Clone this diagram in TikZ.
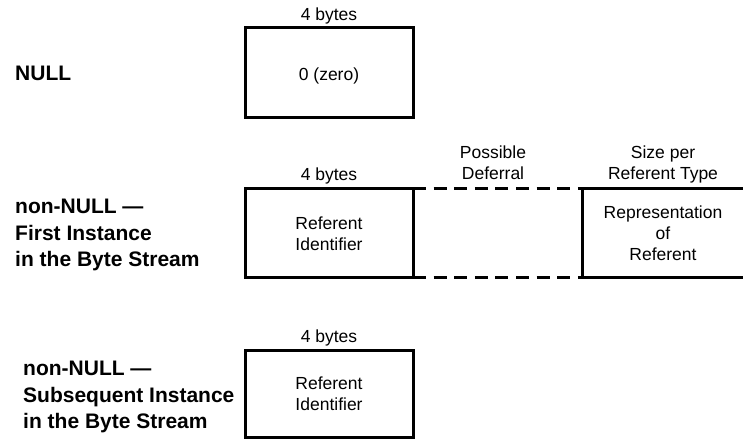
\documentclass[tikz,border=0pt]{standalone}
\usepackage{fontspec}
\setmainfont{Liberation Sans}
\tikzset{
  frame/.style={line width=3pt, line cap=butt},
  dashframe/.style={line width=3pt, dash pattern=on 13pt off 7.6pt},
  lbl/.style={inner sep=0pt, align=center, font=\fontsize{17.5}{21}\selectfont},
  side/.style={inner sep=0pt, align=left, font=\fontsize{21}{26.5}\selectfont\bfseries},
}
\begin{document}
\begin{tikzpicture}[x=1pt,y=-1pt]
\useasboundingbox (0,0) rectangle (743,440);
% left labels
\node[side, anchor=base west] (tnull) at (15,80) {NULL};
\node[side, anchor=west] (tfirst) at (15,235) {non-NULL —\\First Instance\\in the Byte Stream};
\node[side, anchor=west] (tsub) at (23,397) {non-NULL —\\Subsequent Instance\\in the Byte Stream};
% row 1
\draw[frame] (245,27) rectangle (413,117);
\node[lbl, anchor=base] (s1) at (329,20) {4 bytes};
\node[lbl, anchor=base] (v1) at (329,80) {0 (zero)};
% row 2
\draw[frame] (245,188) rectangle (413,277);
\draw[dashframe] (413,188) -- (582,188);
\draw[dashframe] (413,277) -- (582,277);
\draw[frame] (746,188) -- (582,188) -- (582,277) -- (746,277);
\node[lbl, anchor=base] (s2) at (329,180) {4 bytes};
\node[lbl] (s2b) at (493,162.5) {Possible\\Deferral};
\node[lbl] (s2c) at (663,164.5) {Size per\\Referent Type};
\node[lbl] (v2) at (329,233.5) {Referent\\Identifier};
\node[lbl] (v2c) at (663,233.5) {Representation\\of\\Referent};
% row 3
\draw[frame] (245,350) rectangle (413,437);
\node[lbl, anchor=base] (s3) at (329,342) {4 bytes};
\node[lbl] (v3) at (329,393.5) {Referent\\Identifier};
\end{tikzpicture}
\end{document}
